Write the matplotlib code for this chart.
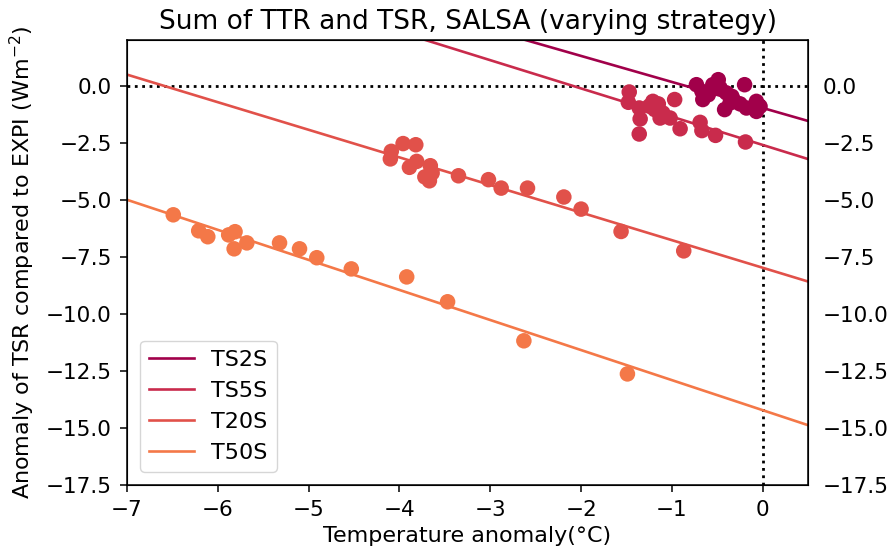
import numpy as np
import matplotlib
matplotlib.use("Agg")
import matplotlib.pyplot as plt

# experiments and their colours
labels = ["TS2S", "TS5S", "T20S", "T50S"]
colors = ["#a1004a", "#c92b4c", "#e1514a", "#f47848"]

# regression lines (slope, intercept at 0 degC)
slopes = [-1.14, -1.238, -1.209, -1.317]
intercepts = [-0.98, -2.60, -7.98, -14.22]

# temperature anomaly / TSR anomaly per member
ts2s_t = [-0.73, -0.67, -0.66, -0.55, -0.49, -0.47, -0.40, -0.34, -0.42, -0.36,
          -0.31, -0.20, -0.18, -0.07, -0.07, -0.03, -0.60, -0.25]
ts2s_r = [0.04, -0.25, -0.61, 0.04, 0.26, -0.10, -0.32, -0.47, -1.05, -0.76,
          -0.69, 0.04, -0.98, -0.69, -1.13, -0.91, -0.40, -0.80]

ts5s_t = [-1.47, -1.48, -1.36, -1.35, -1.36, -1.21, -1.19, -1.13, -1.02, -0.97,
          -0.91, -0.69, -0.67, -0.52, -0.19, -1.25, -1.10, -1.15]
ts5s_r = [-0.28, -0.73, -0.98, -1.46, -2.12, -0.69, -1.05, -1.42, -1.42, -0.61,
          -1.89, -1.61, -1.97, -2.18, -2.47, -0.90, -1.20, -0.80]

t20s_t = [-4.09, -4.10, -3.96, -3.82, -3.81, -3.89, -3.66, -3.72, -3.67, -3.64,
          -3.35, -3.02, -2.88, -2.59, -2.19, -2.00, -1.56, -0.87]
t20s_r = [-2.88, -3.21, -2.54, -2.59, -3.32, -3.58, -3.51, -4.00, -4.17, -3.83,
          -3.95, -4.12, -4.49, -4.49, -4.88, -5.41, -6.39, -7.24]

t50s_t = [-6.49, -6.21, -6.11, -5.88, -5.81, -5.82, -5.68, -5.32, -5.10, -4.91,
          -4.53, -3.92, -3.47, -2.63, -1.49]
t50s_r = [-5.66, -6.36, -6.62, -6.54, -6.40, -7.15, -6.89, -6.89, -7.15, -7.54,
          -8.03, -8.38, -9.47, -11.18, -12.63]

temps = [ts2s_t, ts5s_t, t20s_t, t50s_t]
resps = [ts2s_r, ts5s_r, t20s_r, t50s_r]

xlim = (-7, 0.5)
ylim = (-17.5, 2)
yticks = np.arange(-17.5, 0.1, 2.5)

fig = plt.figure(figsize=(8.94, 5.55), dpi=100)
ax = fig.add_axes([0.142, 0.126, 0.762, 0.802])

xs = np.array(xlim)
for lab, c, a, b, t, r in zip(labels, colors, slopes, intercepts, temps, resps):
    ax.plot(xs, a * xs + b, color=c, lw=1.9, label=lab, zorder=2)
    ax.scatter(t, r, s=125, color=c, edgecolors="none", zorder=3)

ax.axhline(0, color="k", ls=":", lw=2, zorder=1)
ax.axvline(0, color="k", ls=":", lw=2, zorder=1)

ax.set_xlim(xlim)
ax.set_ylim(ylim)
ax.set_yticks(yticks)
ax.tick_params(labelsize=15.5, length=5, width=1.1, pad=6)
for s in ax.spines.values():
    s.set_linewidth(1.1)
ax.set_xlabel("Temperature anomaly(°C)", fontsize=16, labelpad=4)
ax.set_ylabel("Anomaly of TSR compared to EXPI (Wm$^{-2}$)", fontsize=16, labelpad=6)
ax.set_title("Sum of TTR and TSR, SALSA (varying strategy)", fontsize=19, pad=8)
ax.legend(loc="lower left", fontsize=16, handlelength=2.0, borderaxespad=0.6)

ax2 = ax.twinx()
ax2.set_ylim(ylim)
ax2.set_yticks(yticks)
ax2.tick_params(labelsize=15.5, length=0, pad=10.5)

fig.savefig("out.png", dpi=100)
